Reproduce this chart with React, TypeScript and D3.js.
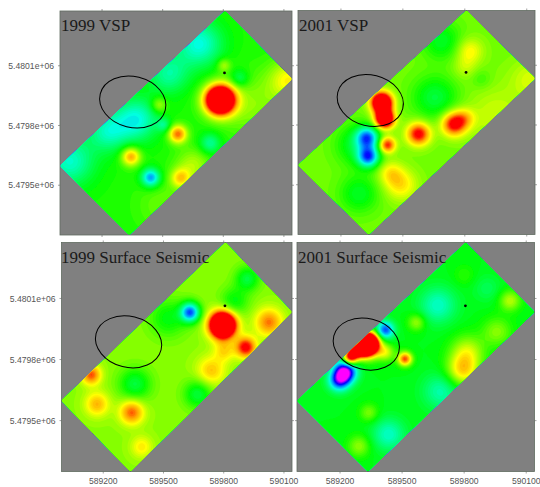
import React from "react";
import * as d3 from "d3";

const vsp1999: number[][] = [
  [589784, 5479928, 2.0, 52], [589680, 5480210, -0.55, 80], [589530, 5480060, -0.4, 70],
  [589370, 5479830, -0.55, 75], [589230, 5479770, -0.45, 70], [589040, 5479620, -0.5, 85],
  [589950, 5479900, 0.22, 110], [590126, 5480028, 0.45, 70], [589500, 5479400, 0.15, 90],
  [589650, 5479600, 0.3, 60],
  [589575, 5479757, 0.8, 32], [589343, 5479644, 0.7, 33], [589441, 5479538, -0.8, 32],
  [589588, 5479535, 0.5, 34], [589735, 5479710, -0.4, 36],
  [589881, 5480036, -0.3, 32], [589803, 5480103, 0.3, 24],
  [589482, 5479903, 0.35, 28], [589506, 5479802, -0.3, 24],
];
const vsp2001: number[][] = [
  [589398, 5479913, 1.5, 36], [589412, 5479830, 1.4, 32], [589328, 5479737, -0.9, 38],
  [589333, 5479640, -1.0, 36], [589280, 5479700, -0.35, 70], [589424, 5479700, 0.8, 28],
  [589576, 5479755, 0.85, 40], [589747, 5479805, 0.85, 42], [589800, 5479835, 0.3, 35],
  [589490, 5479500, 0.35, 55], [589440, 5479560, 0.28, 42], [589824, 5480172, 0.3, 45],
  [589800, 5480090, 0.15, 40], [589656, 5479938, -0.35, 75], [589688, 5480222, -0.3, 65],
  [589880, 5480030, -0.12, 34], [589288, 5479455, -0.3, 65], [590120, 5480030, 0.2, 70],
  [589950, 5479850, 0.18, 100],
];
const seismic1999: number[][] = [
  [589795, 5479970, 1.9, 45], [589633, 5480032, -1.1, 34], [589910, 5479860, 0.8, 36],
  [590025, 5479983, 0.55, 48], [589737, 5479745, 0.38, 50], [589803, 5479841, 0.3, 36],
  [589918, 5480197, -0.4, 42], [589852, 5480084, -0.3, 48], [589523, 5480003, -0.3, 65],
  [589358, 5479679, -0.4, 55], [589671, 5479630, -0.4, 48], [589169, 5479581, 0.42, 42],
  [589342, 5479541, 0.6, 42], [589140, 5479725, 0.62, 34], [589391, 5479371, 0.28, 38],
];
const seismic2001: number[][] = [
  [589332, 5479864, 1.6, 38], [589290, 5479860, 1.3, 30], [589340, 5479890, 1.3, 32],
  [589250, 5479810, 1.2, 25], [589225, 5479741, -1.25, 38], [589195, 5479695, -0.8, 36],
  [589419, 5479945, -0.85, 30], [589514, 5479803, 0.95, 24], [589420, 5479835, 0.45, 30],
  [589570, 5479983, 0.35, 30], [589792, 5479745, 0.6, 55], [589816, 5479839, 0.42, 58],
  [590022, 5480089, 0.4, 36], [589959, 5479937, 0.3, 50], [589673, 5480067, -0.4, 62],
  [589435, 5479432, -0.4, 55], [589911, 5480149, -0.15, 45], [589689, 5479644, -0.35, 62],
  [589340, 5479538, 0.28, 32], [589292, 5479375, 0.32, 38], [589800, 5480214, 0.12, 36],
];

const titles = ["1999 VSP", "2001 VSP", "1999 Surface Seismic", "2001 Surface Seismic"];
const baseLevels = [0.05, 0.22, 0.27, -0.04];
const fields = [vsp1999, vsp2001, seismic1999, seismic2001];
// target-zone ellipse centre for each map
const ellipseX = [589352, 589342, 589326, 589327];
const ellipseY = [5479918, 5479923, 5479887, 5479876];
const xTicks = [589200, 589500, 589800, 590100];
const yTicks = [5480100, 5479800, 5479500];
const yTickLabels = ["5.4801e+06", "5.4798e+06", "5.4795e+06"];
const surveyCorners = [
  [589808, 5480375], [590140, 5480033], [589335, 5479250], [588992, 5479598],
];
const wellX = 589806;
const wellY = 5480064;
const xDomain = [588992, 590140];
const yDomain = [5479250, 5480375];

const frames = [
  { x0: 60, x1: 292, y0: 11, y1: 235, left: true, bottom: false, titleX: 61 },
  { x0: 298, x1: 535, y0: 10.5, y1: 234.5, left: false, bottom: false, titleX: 299 },
  { x0: 61.5, x1: 292, y0: 242.5, y1: 471.5, left: true, bottom: true, titleX: 61 },
  { x0: 297, x1: 534.5, y0: 242.5, y1: 471.5, left: false, bottom: true, titleX: 298 },
];

const colour = d3
  .scaleLinear<string>()
  .domain([-1.3, -1, -0.75, -0.5, 0, 0.5, 0.75, 1])
  .range(["#ff00ff", "#0000ff", "#0090ff", "#00ffe0", "#00ff00", "#ffff00", "#ffa000", "#ff0000"])
  .clamp(true);

const GRID = 140;
const thresholds = d3.range(-2, 1.04, 0.04);

function Panel({ index }: { index: number }) {
  const f = frames[index];
  const x = d3.scaleLinear().domain(xDomain).range([f.x0, f.x1]);
  const y = d3.scaleLinear().domain(yDomain).range([f.y1, f.y0]);
  const blobs = fields[index];
  const values: number[] = [];
  for (let j = 0; j < GRID; j++) {
    for (let i = 0; i < GRID; i++) {
      const dx = xDomain[0] + ((xDomain[1] - xDomain[0]) * i) / (GRID - 1);
      const dy = yDomain[0] + ((yDomain[1] - yDomain[0]) * j) / (GRID - 1);
      let v = baseLevels[index];
      for (const [bx, by, a, s] of blobs) {
        v += a * Math.exp(-((dx - bx) ** 2 + (dy - by) ** 2) / (2 * s * s));
      }
      values.push(v);
    }
  }
  const contours = d3.contours().size([GRID, GRID]).thresholds(thresholds)(values);
  const path = d3.geoPath(
    d3.geoTransform({
      point(px: number, py: number) {
        const gx = xDomain[0] + ((xDomain[1] - xDomain[0]) * (px - 0.5)) / (GRID - 1);
        const gy = yDomain[0] + ((yDomain[1] - yDomain[0]) * (py - 0.5)) / (GRID - 1);
        (this as any).stream.point(x(gx), y(gy));
      },
    })
  );
  const poly = surveyCorners.map(([a, b]) => `${x(a)},${y(b)}`).join(" ");
  const clipId = `survey-${index}`;
  const cx = x(ellipseX[index]);
  const cy = y(ellipseY[index]);
  const tickColour = "#666";
  return (
    <g>
      <clipPath id={clipId}>
        <polygon points={poly} />
      </clipPath>
      <rect x={f.x0} y={f.y0} width={f.x1 - f.x0} height={f.y1 - f.y0} fill="#808080" />
      <g filter="url(#soft)">
        <g clipPath={`url(#${clipId})`}>
          <rect x={f.x0} y={f.y0} width={f.x1 - f.x0} height={f.y1 - f.y0} fill={colour(-2)} />
          {contours.map((c, k) => (
            <path key={k} d={path(c as any) ?? ""} fill={colour(c.value + 0.02)} />
          ))}
        </g>
      </g>
      <rect x={f.x0} y={f.y0} width={f.x1 - f.x0} height={f.y1 - f.y0} fill="none" stroke="#5f6a5f" strokeWidth={0.8} />
      {xTicks.map((t) => (
        <g key={t} stroke={tickColour} strokeWidth={0.6}>
          <line x1={x(t)} x2={x(t)} y1={f.y0 - 2} y2={f.y0} />
          <line x1={x(t)} x2={x(t)} y1={f.y1} y2={f.y1 + 2} />
        </g>
      ))}
      {yTicks.map((t) => (
        <g key={t} stroke={tickColour} strokeWidth={0.6}>
          <line x1={f.x0 - 2} x2={f.x0} y1={y(t)} y2={y(t)} />
          <line x1={f.x1} x2={f.x1 + 2} y1={y(t)} y2={y(t)} />
        </g>
      ))}
      {f.left &&
        yTicks.map((t, k) => (
          <text key={t} x={f.x0 - 6} y={y(t) + 3.2} textAnchor="end" fontSize={8.6} fill="#555"
            fontFamily="'Liberation Sans', sans-serif">
            {yTickLabels[k]}
          </text>
        ))}
      {f.bottom &&
        xTicks.map((t) => (
          <text key={t} x={x(t)} y={f.y1 + 12} textAnchor="middle" fontSize={8.6} fill="#555"
            fontFamily="'Liberation Sans', sans-serif">
            {t}
          </text>
        ))}
      <ellipse cx={cx} cy={cy} rx={33.5} ry={25.5} fill="none" stroke="#000" strokeWidth={1}
        transform={`rotate(14 ${cx} ${cy})`} />
      <circle cx={x(wellX)} cy={y(wellY)} r={1.4} fill="#000" />
      <text x={f.titleX} y={f.y0 + 20} fontSize={17} fill="#1a1a1a"
        fontFamily="'Liberation Serif', serif">
        {titles[index]}
      </text>
    </g>
  );
}

export default function App() {
  return (
    <svg width={540} height={487} viewBox="0 0 540 487"
      style={{ position: "absolute", left: 0, top: 0, background: "#fff" }}>
      <defs>
        <filter id="soft" x="-2%" y="-2%" width="104%" height="104%">
          <feGaussianBlur stdDeviation={0.5} />
        </filter>
      </defs>
      {titles.map((_, i) => (
        <Panel key={i} index={i} />
      ))}
    </svg>
  );
}
